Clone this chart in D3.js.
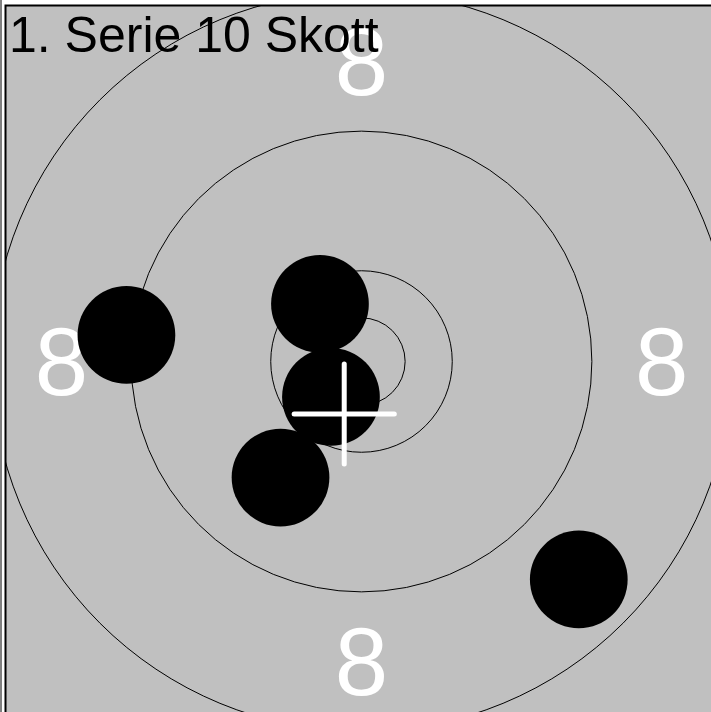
<!DOCTYPE html>
<html>
<head>
<meta charset="utf-8">
<script src="https://cdn.jsdelivr.net/npm/d3@7"></script>
<style>
  html, body { margin: 0; padding: 0; background: #ffffff; }
  svg { display: block; }
</style>
</head>
<body>
<svg id="chart" width="711" height="712"></svg>
<script>
// Target ring radii (mm) — 50 m rifle target: inner ten, 10, 9, 8
const ringRadii = [2.5, 5.2, 13.2, 21.2];
// Ring value labels
const ringLabels = [
  { text: "8", x: 0, y: 17.2 },
  { text: "8", x: 0, y: -17.2 },
  { text: "8", x: -17.2, y: 0 },
  { text: "8", x: 17.2, y: 0 }
];
// Shot positions (mm from centre)
const shotX = [-2.38, -1.75, -4.64, -13.47, 12.45];
const shotY = [3.30, -2.03, -6.65, 1.52, -12.49];
const shotRadius = 2.8; // .22 calibre
// Mean point of impact
const meanX = -0.99;
const meanY = -3.01;
const crossHalf = 2.87;
const title = "1. Serie 10 Skott";

(function () {
const svg = d3.select("#chart");
const half = 20.37;
const pLeft = 6, pTop = 6, size = 711;
const x = d3.scaleLinear().domain([-half, half]).range([pLeft, pLeft + size]);
const y = d3.scaleLinear().domain([half, -half]).range([pTop, pTop + size]);
const k = size / (2 * half);

svg.append("defs").append("clipPath").attr("id", "plotclip")
  .append("rect").attr("x", pLeft).attr("y", pTop).attr("width", size).attr("height", size);

svg.append("line").attr("x1", 1).attr("x2", 1).attr("y1", 0).attr("y2", 712)
  .attr("stroke", "#000").attr("stroke-width", 1);

const g = svg.append("g").attr("clip-path", "url(#plotclip)");
g.append("rect").attr("x", pLeft).attr("y", pTop).attr("width", size).attr("height", size)
  .attr("fill", "#c0c0c0");

g.selectAll("circle.ring").data(ringRadii).join("circle")
  .attr("class", "ring")
  .attr("cx", x(0)).attr("cy", y(0))
  .attr("r", d => d * k)
  .attr("fill", "none").attr("stroke", "#000").attr("stroke-width", 1);

g.selectAll("text.lab").data(ringLabels).join("text")
  .attr("class", "lab")
  .attr("x", d => x(d.x)).attr("y", d => y(d.y))
  .attr("text-anchor", "middle").attr("dominant-baseline", "central")
  .attr("font-family", "Liberation Sans, Arial, sans-serif")
  .attr("font-size", 96).attr("fill", "#ffffff")
  .text(d => d.text);

const shots = shotX.map((v, i) => ({ x: v, y: shotY[i] }));
g.selectAll("circle.shot").data(shots).join("circle")
  .attr("class", "shot")
  .attr("cx", d => x(d.x)).attr("cy", d => y(d.y))
  .attr("r", shotRadius * k).attr("fill", "#000");

g.append("line")
  .attr("x1", x(meanX - crossHalf)).attr("x2", x(meanX + crossHalf))
  .attr("y1", y(meanY)).attr("y2", y(meanY))
  .attr("stroke", "#fff").attr("stroke-width", 5).attr("stroke-linecap", "round");
g.append("line")
  .attr("x1", x(meanX)).attr("x2", x(meanX))
  .attr("y1", y(meanY - crossHalf)).attr("y2", y(meanY + crossHalf))
  .attr("stroke", "#fff").attr("stroke-width", 5).attr("stroke-linecap", "round");

g.append("text").attr("x", 9).attr("y", 52)
  .attr("font-family", "Liberation Sans, Arial, sans-serif")
  .attr("font-size", 50).attr("fill", "#000")
  .text(title);

svg.append("rect").attr("x", pLeft - 0.5).attr("y", pTop - 0.5)
  .attr("width", size + 1).attr("height", size + 1)
  .attr("fill", "none").attr("stroke", "#000").attr("stroke-width", 2);
})();
</script>
</body>
</html>
